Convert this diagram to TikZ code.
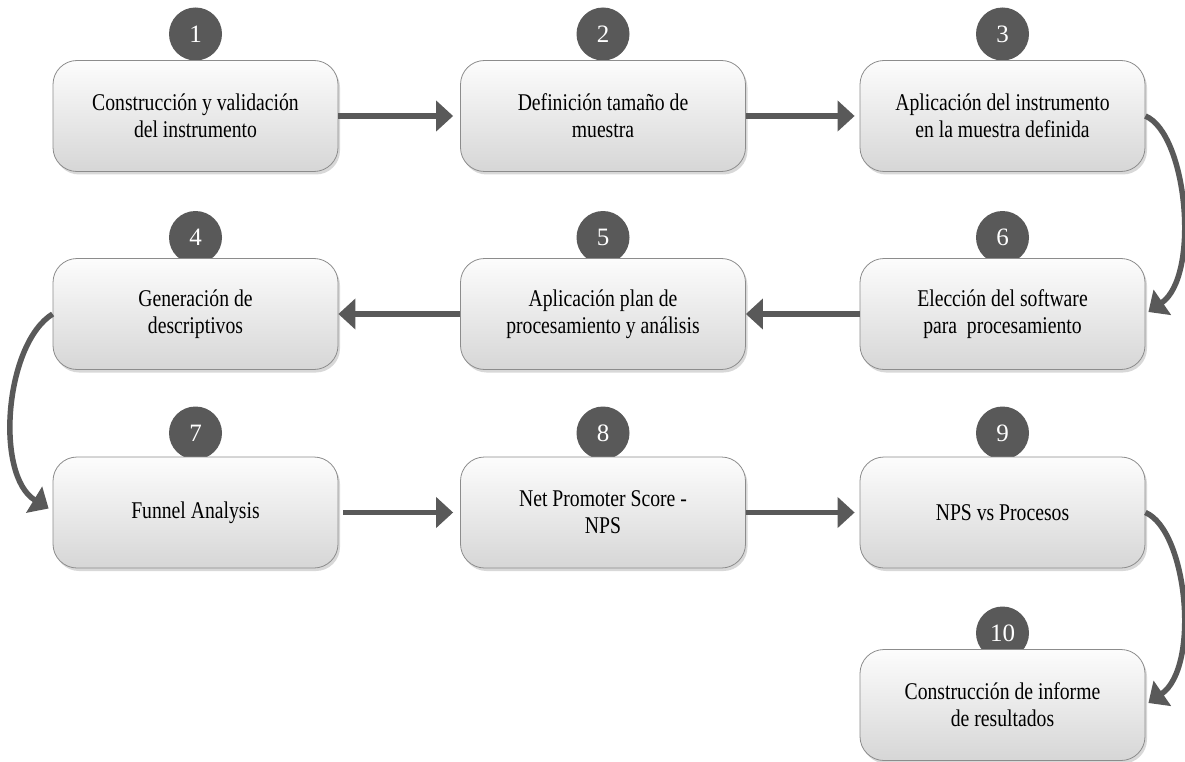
\documentclass[tikz,border=0pt]{standalone}
\usepackage{fontspec}
\setmainfont{Liberation Serif}[FakeStretch=0.82]
\newfontfamily\numfont{Liberation Serif}
\usetikzlibrary{arrows.meta,shadows,calc}
\definecolor{dk}{HTML}{595959}
\definecolor{bd}{HTML}{8C8C8C}
\begin{document}
\begin{tikzpicture}[x=1pt,y=-1pt,
 stepbox/.style={draw=bd, line width=0.8pt, rounded corners=24pt, minimum width=285pt, minimum height=111pt,
   top color=gray!2, bottom color=gray!32, align=center, font=\fontsize{24}{27}\selectfont,
   drop shadow={opacity=0.3, shadow xshift=2pt, shadow yshift=-3pt}, inner sep=0pt},
 num/.style={circle, fill=dk, minimum size=53pt, inner sep=0pt, text=white, font=\numfont\fontsize{25}{25}\selectfont},
 conn/.style={draw=dk, line width=5.5pt, -{Triangle[length=17pt,width=30pt]}}]
\useasboundingbox (0,0) rectangle (1185,762);
\fill[white] (0,0) rectangle (1185,762);
% numbered circles
\node[num] (c1) at (195.5,34) {1};
\node[num] (c2) at (603,34) {2};
\node[num] (c3) at (1002.5,34) {3};
\node[num] (c4) at (195.5,237.5) {4};
\node[num] (c5) at (603,237.5) {5};
\node[num] (c6) at (1002.5,237.5) {6};
\node[num] (c7) at (195.5,433) {7};
\node[num] (c8) at (603,433) {8};
\node[num] (c9) at (1002.5,433) {9};
\node[num] (c10) at (1002.5,633) {10};
% boxes
\node[stepbox] (b1) at (195.5,116) {Construcción y validación\\del instrumento};
\node[stepbox] (b2) at (603,116) {Definición tamaño de\\muestra};
\node[stepbox] (b3) at (1002.5,116) {Aplicación del instrumento\\en la muestra definida};
\node[stepbox] (b4) at (195.5,314) {Generación de\\descriptivos};
\node[stepbox] (b5) at (603,314) {Aplicación plan de\\procesamiento y análisis};
\node[stepbox] (b6) at (1002.5,314) {Elección del software\\para~ procesamiento};
\node[stepbox] (b7) at (195.5,512.5) {Funnel Analysis};
\node[stepbox] (b8) at (603,512.5) {Net Promoter Score -\\NPS};
\node[stepbox] (b9) at (1002.5,512.5) {NPS vs Procesos};
\node[stepbox] (b10) at (1002.5,705) {Construcción de informe\\de resultados};
% connectors
\draw[conn] (b1.east) -- ([xshift=-7pt]b2.west);
\draw[conn] (b2.east) -- ([xshift=-5pt]b3.west);
\draw[conn] (b6.west) -- (b5.east);
\draw[conn] (b5.west) -- (b4.east);
\draw[conn] ([xshift=5pt]b7.east) -- ([xshift=-7pt]b8.west);
\draw[conn] (b8.east) -- ([xshift=-5pt]b9.west);
\draw[conn] (b3.east) .. controls +(42,18) and +(52,-36) .. ($(b6.east)+(3,-2)$);
\draw[conn] (b9.east) .. controls +(42,18) and +(52,-36) .. ($(b10.east)+(3,-2)$);
\draw[conn] (b4.west) .. controls +(-48,30) and +(-54,-33) .. ($(b7.west)+(-4,-4)$);
\end{tikzpicture}
\end{document}
